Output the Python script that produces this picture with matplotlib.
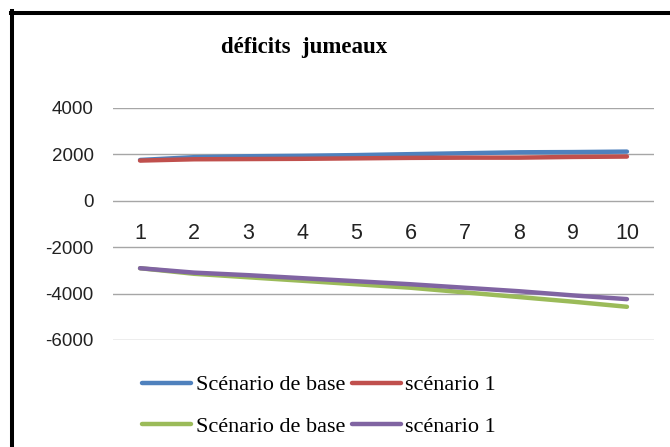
import numpy as np
import matplotlib
matplotlib.use("Agg")
import matplotlib.pyplot as plt
from matplotlib.lines import Line2D

plt.rcParams["axes.unicode_minus"] = False

# values (10 periods)
periods = np.arange(1, 11)
base_top = [1750, 1870, 1910, 1930, 1960, 2000, 2040, 2080, 2090, 2110]
scen1_top = [1724, 1780, 1790, 1800, 1820, 1840, 1850, 1850, 1880, 1897]
base_bottom = [-2910, -3150, -3300, -3450, -3600, -3750, -3950, -4150, -4350, -4570]
scen1_bottom = [-2910, -3100, -3210, -3340, -3470, -3600, -3750, -3900, -4080, -4240]
y_ticks = [-6000, -4000, -2000, 0, 2000, 4000]
labels = ["Scénario de base", "scénario 1", "Scénario de base", "scénario 1"]

W, H = 670, 447
fig = plt.figure(figsize=(W / 100, H / 100), dpi=100)
ax = fig.add_axes([113 / W, 1 - 340 / H, (654 - 113) / W, (340 - 107.7) / H])

lw = 3.2
l1, = ax.plot(periods, base_top, color="#4F81BD", lw=lw, solid_capstyle="round")
l2, = ax.plot(periods, scen1_top, color="#C0504D", lw=lw, solid_capstyle="round")
l3, = ax.plot(periods, base_bottom, color="#9BBB59", lw=lw, solid_capstyle="round")
l4, = ax.plot(periods, scen1_bottom, color="#8064A2", lw=lw, solid_capstyle="round")

ax.set_xlim(0.5, 10.5)
ax.set_ylim(-6000, 4000)
ax.set_yticks(y_ticks)
ax.set_xticks(periods)
ax.yaxis.grid(True, color="#A6A6A6", linewidth=1)
ax.set_axisbelow(True)
for s in ["left", "right", "top"]:
    ax.spines[s].set_visible(False)
ax.spines["bottom"].set_position(("data", 0))
ax.spines["bottom"].set_visible(False)
ax.tick_params(axis="both", length=0)
ax.tick_params(axis="y", pad=14, labelsize=13.5, labelcolor="#222222")
ax.tick_params(axis="x", pad=16, labelsize=15.5, labelcolor="#222222")
for t in ax.get_xticklabels() + ax.get_yticklabels():
    t.set_fontfamily("Liberation Sans")

fig.text(304.5 / W, 1 - 48 / H, "déficits  jumeaux", ha="center", va="center",
         fontsize=16.5, fontweight="bold", family="Liberation Serif")

fig.legend([l1, l3, l2, l4], [labels[0], labels[2], labels[1], labels[3]],
           ncol=2, loc="center", bbox_to_anchor=(319 / W, 1 - 406 / H),
           frameon=False, prop={"family": "Liberation Serif", "size": 16},
           handlelength=2.2, handletextpad=0.22, columnspacing=0.3,
           labelspacing=0.95)

# outer black frame (only left and top visible)
fig.add_artist(Line2D([12.5 / W, 12.5 / W], [0, 1 - 10.5 / H], color="black",
                      lw=2.9, transform=fig.transFigure))
fig.add_artist(Line2D([10.5 / W, 1], [1 - 12.5 / H, 1 - 12.5 / H], color="black",
                      lw=2.9, transform=fig.transFigure))

fig.savefig("out.png", dpi=100)
